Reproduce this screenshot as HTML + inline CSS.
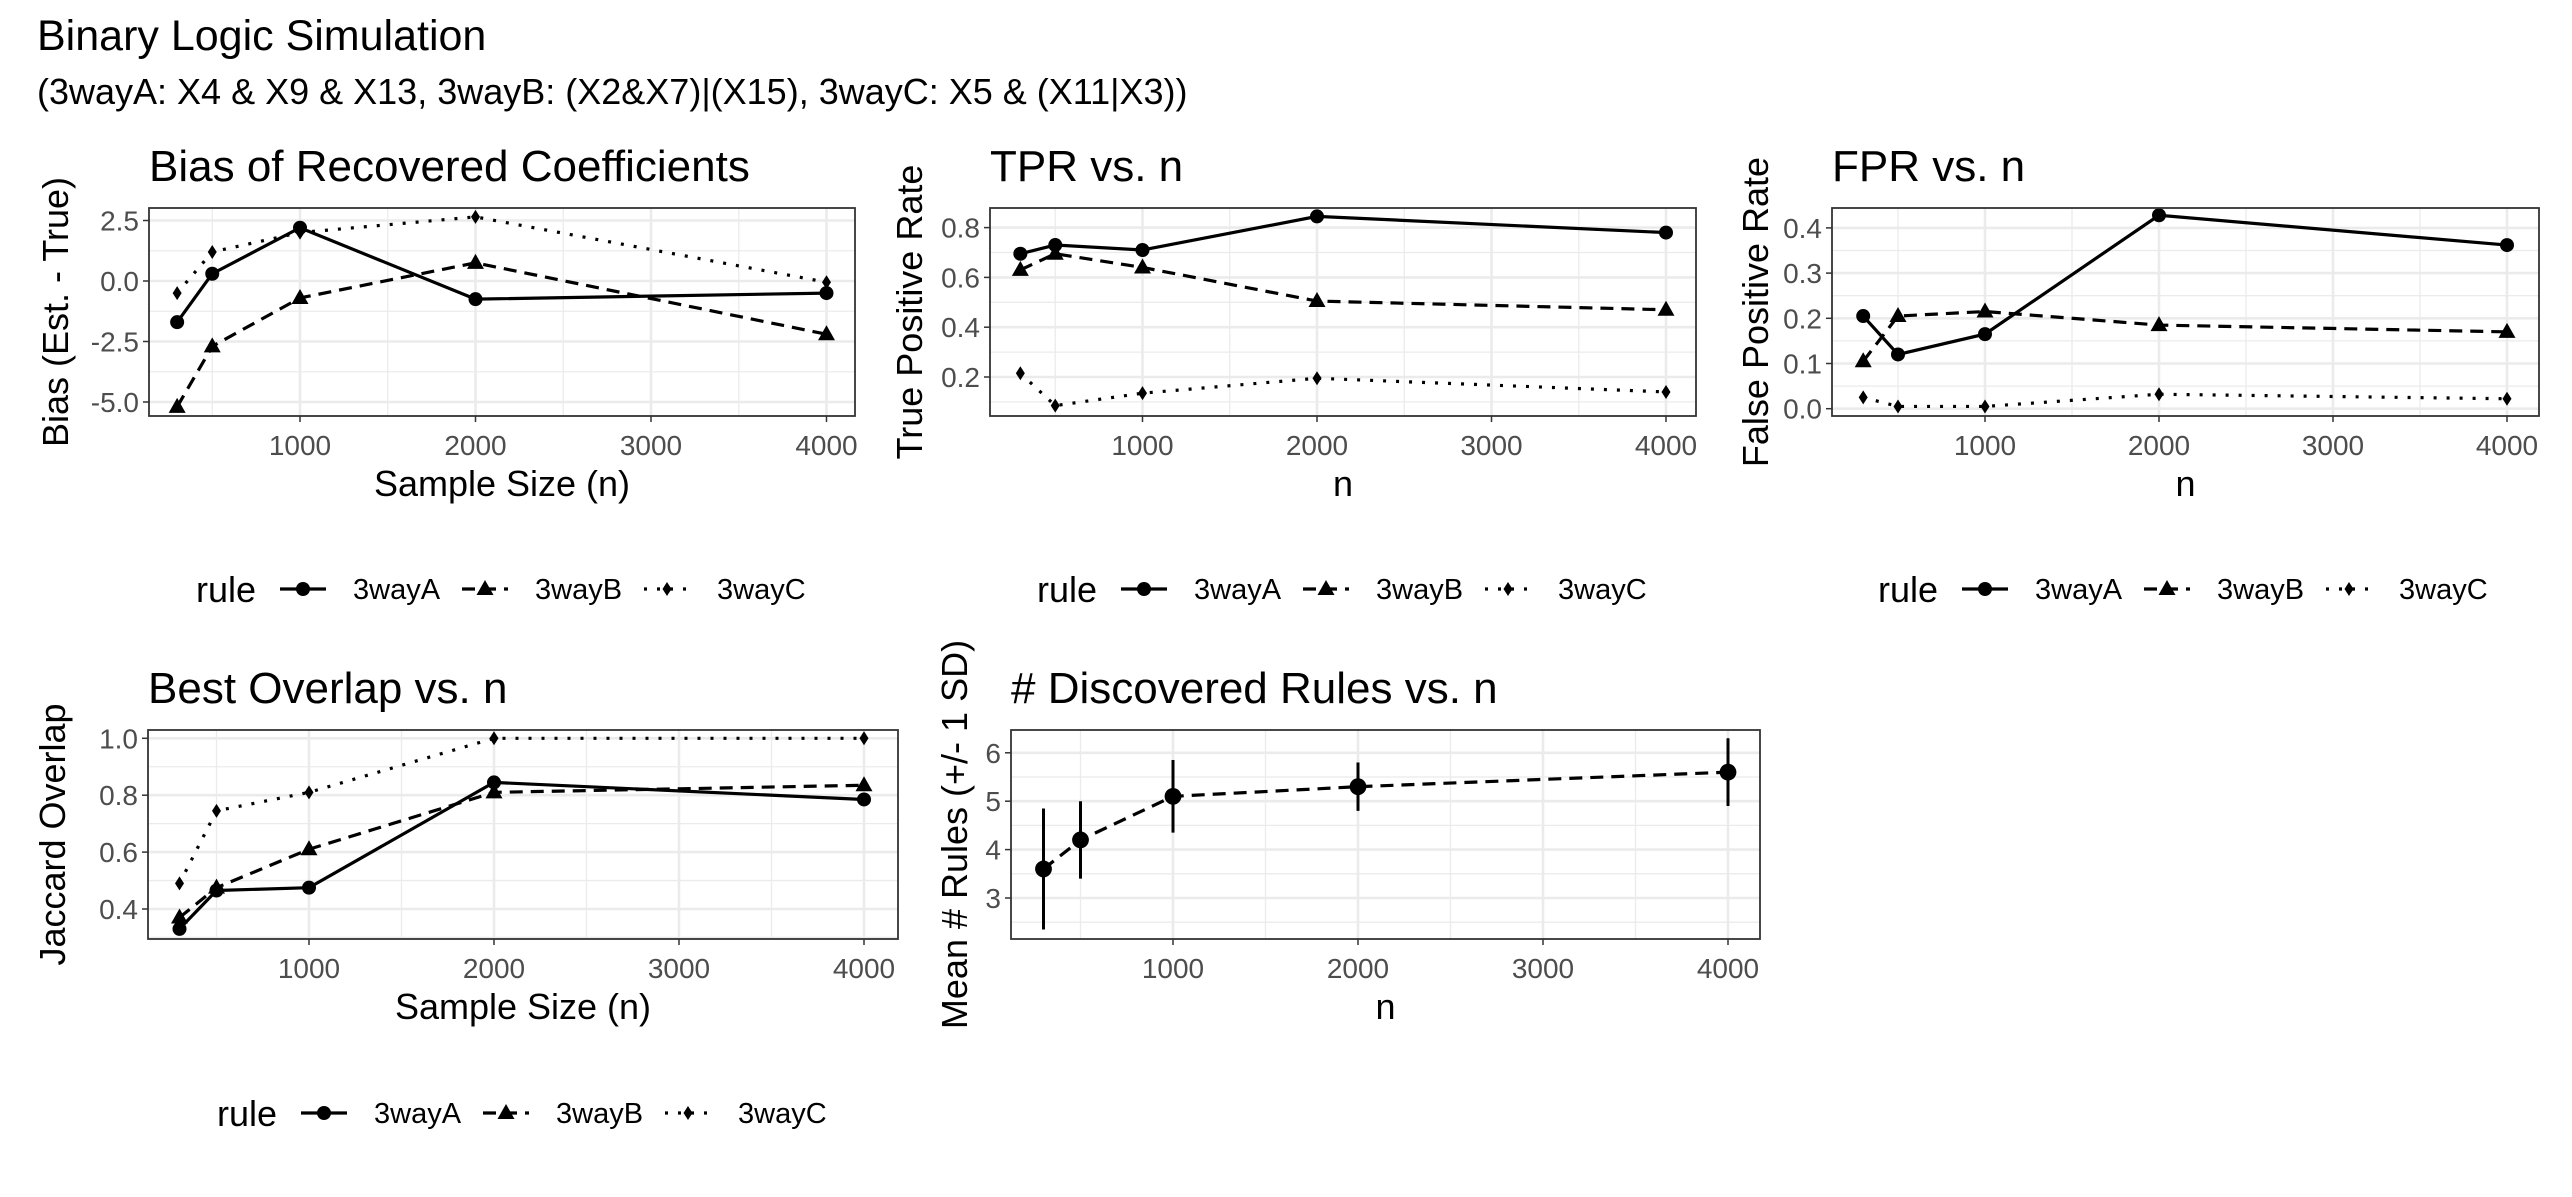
<!DOCTYPE html>
<html><head><meta charset="utf-8"><style>
html,body{margin:0;padding:0;background:#fff}
svg text{font-family:"Liberation Sans",Arial,sans-serif}
</style></head><body>
<svg id="c" width="2572" height="1192" viewBox="0 0 2572 1192" xmlns="http://www.w3.org/2000/svg">
<rect width="2572" height="1192" fill="#fff"/>
<text x="37" y="50" font-size="43">Binary Logic Simulation</text>
<text x="37" y="104" font-size="36">(3wayA: X4 &amp; X9 &amp; X13, 3wayB: (X2&amp;X7)|(X15), 3wayC: X5 &amp; (X11|X3))</text>
</svg>
<script>
const nValues = [300, 500, 1000, 2000, 4000];
const seriesNames = ['3wayA', '3wayB', '3wayC'];
const biasA = [-1.7, 0.3, 2.2, -0.75, -0.5];
const biasB = [-5.2, -2.7, -0.7, 0.75, -2.2];
const biasC = [-0.5, 1.2, 2.0, 2.65, -0.05];
const tprA = [0.695, 0.73, 0.71, 0.845, 0.78];
const tprB = [0.63, 0.695, 0.64, 0.505, 0.47];
const tprC = [0.215, 0.085, 0.135, 0.195, 0.14];
const fprA = [0.205, 0.12, 0.165, 0.428, 0.362];
const fprB = [0.105, 0.205, 0.215, 0.185, 0.17];
const fprC = [0.025, 0.005, 0.005, 0.032, 0.022];
const jacA = [0.33, 0.465, 0.475, 0.845, 0.785];
const jacB = [0.37, 0.475, 0.61, 0.81, 0.835];
const jacC = [0.49, 0.745, 0.81, 1.0, 1.0];
const rulesMean = [3.6, 4.2, 5.1, 5.3, 5.6];
const rulesLow = [2.35, 3.4, 4.35, 4.8, 4.9];
const rulesHigh = [4.85, 5.0, 5.85, 5.8, 6.3];
const xTicks = [1000, 2000, 3000, 4000];
const biasTicks = [-5.0, -2.5, 0.0, 2.5];
const tprTicks = [0.2, 0.4, 0.6, 0.8];
const fprTicks = [0.0, 0.1, 0.2, 0.3, 0.4];
const jacTicks = [0.4, 0.6, 0.8, 1.0];
const rulesTicks = [3, 4, 5, 6];

const svg = document.getElementById('c');
const NS = 'http://www.w3.org/2000/svg';
function mk(tag, attrs, parent) {
  const e = document.createElementNS(NS, tag);
  for (const k in attrs) e.setAttribute(k, attrs[k]);
  (parent || svg).appendChild(e);
  return e;
}
function shape(g, kind, x, y, s) {
  let e;
  if (kind === 0) e = mk('circle', {cx: x, cy: y, r: 7 * s, fill: '#000'}, g);
  else if (kind === 1) e = mk('polygon', {points: `${x},${y-9*s} ${x+8.5*s},${y+6*s} ${x-8.5*s},${y+6*s}`, fill: '#000'}, g);
  else e = mk('polygon', {points: `${x},${y-7*s} ${x+4.5*s},${y} ${x},${y+7*s} ${x-4.5*s},${y}`, fill: '#000'}, g);
  return e;
}
const dashes = ['none', '13,8', '3,10'];

function panel(p) {
  const g = mk('g', {});
  
  
  const X = n => p.x0 + n * p.xs;
  const Y = v => p.yz - (v - p.yb) * p.ys;
  const step = p.yticks[1] - p.yticks[0];
  for (let i = 0; i < p.yticks.length + 1; i++) {
    const v = p.yticks[0] - step / 2 + i * step;
    const yy = Y(v);
    if (yy > p.top && yy < p.bot) mk('line', {x1: p.l, x2: p.r, y1: yy, y2: yy, stroke: '#ebebeb', 'stroke-width': 1.3}, g);
  }
  for (let n = 500; n <= 4000; n += 1000) mk('line', {x1: X(n), x2: X(n), y1: p.top, y2: p.bot, stroke: '#ebebeb', 'stroke-width': 1.3}, g);
  p.yticks.forEach(v => {
    mk('line', {x1: p.l, x2: p.r, y1: Y(v), y2: Y(v), stroke: '#ebebeb', 'stroke-width': 2.6}, g);
    mk('line', {x1: p.l - 6, x2: p.l, y1: Y(v), y2: Y(v), stroke: '#333', 'stroke-width': 1.5}, g);
    const t = mk('text', {x: p.l - 10, y: Y(v) + 10, 'font-size': 28, fill: '#4d4d4d', 'text-anchor': 'end'}, g);
    t.textContent = p.fmt(v);
    
    
  });
  xTicks.forEach(n => {
    mk('line', {x1: X(n), x2: X(n), y1: p.top, y2: p.bot, stroke: '#ebebeb', 'stroke-width': 2.6}, g);
    mk('line', {x1: X(n), x2: X(n), y1: p.bot, y2: p.bot + 6, stroke: '#333', 'stroke-width': 1.5}, g);
    const t = mk('text', {x: X(n), y: p.bot + 39, 'font-size': 28, fill: '#4d4d4d', 'text-anchor': 'middle'}, g);
    t.textContent = n;
    
    
  });
  p.series.forEach((vals, si) => {
    const kind = p.kinds ? p.kinds[si] : si;
    const pl = mk('polyline', {points: nValues.map((n, i) => X(n) + ',' + Y(vals[i])).join(' '), fill: 'none', stroke: '#000', 'stroke-width': 3.2, 'stroke-dasharray': p.dash ? p.dash[si] : dashes[si]}, g);
    
    
    nValues.forEach((n, i) => {
      const pt = shape(g, kind, X(n), Y(vals[i]), p.ps || 1);
      
      
    });
  });
  if (p.err) {
    nValues.forEach((n, i) => {
      const eb = mk('line', {x1: X(n), x2: X(n), y1: Y(p.err[0][i]), y2: Y(p.err[1][i]), stroke: '#000', 'stroke-width': 3}, g);
      
      
    });
  }
  mk('rect', {x: p.l, y: p.top, width: p.r - p.l, height: p.bot - p.top, fill: 'none', stroke: '#333', 'stroke-width': 1.8}, g);
  const tt = mk('text', {x: p.l, y: p.top - 27, 'font-size': 44}, g);
  tt.textContent = p.title;
  
  
  const xt = mk('text', {x: (p.l + p.r) / 2, y: p.bot + 80, 'font-size': 36, 'text-anchor': 'middle'}, g);
  xt.textContent = p.xtitle;
  
  
  const yc = (p.top + p.bot) / 2;
  const yt = mk('text', {x: p.ytx, y: yc, 'font-size': 36, 'text-anchor': 'middle', transform: `rotate(-90 ${p.ytx} ${yc})`}, g);
  yt.textContent = p.ytitle;
  
  
  if (p.leg) {
    const lx = p.leg[0], ly = p.leg[1];
    const lg = mk('g', {}, g);
    
    
    const rt = mk('text', {x: lx, y: ly + 13, 'font-size': 36}, lg);
    rt.textContent = 'rule';
    seriesNames.forEach((nm, i) => {
      const bx = lx + 84 + i * 182;
      const ln = mk('line', {x1: bx, x2: bx + 46, y1: ly, y2: ly, stroke: '#000', 'stroke-width': 3.2, 'stroke-dasharray': dashes[i]}, lg);
      
      
      shape(lg, i, bx + 23, ly, 1);
      const t = mk('text', {x: lx + 157 + i * 182, y: ly + 10, 'font-size': 29}, lg);
      t.textContent = nm;
      
      
    });
  }
}
const f1 = v => v.toFixed(1);
panel({name: 'bias-panel', l: 149, r: 855, top: 208, bot: 416, x0: 124.5, xs: 0.1755, yz: 281, yb: 0, ys: 24.2,
  yticks: biasTicks, fmt: f1, series: [biasA, biasB, biasC], title: 'Bias of Recovered Coefficients',
  xtitle: 'Sample Size (n)', ytitle: 'Bias (Est. - True)', ytx: 68, leg: [196, 589]});
panel({name: 'tpr-panel', l: 990, r: 1696, top: 208, bot: 416, x0: 968, xs: 0.1745, yz: 377, yb: 0.2, ys: 249,
  yticks: tprTicks, fmt: f1, series: [tprA, tprB, tprC], title: 'TPR vs. n',
  xtitle: 'n', ytitle: 'True Positive Rate', ytx: 922, leg: [1037, 589]});
panel({name: 'fpr-panel', l: 1832, r: 2539, top: 208, bot: 416, x0: 1811, xs: 0.174, yz: 408.7, yb: 0, ys: 452,
  yticks: fprTicks, fmt: f1, series: [fprA, fprB, fprC], title: 'FPR vs. n',
  xtitle: 'n', ytitle: 'False Positive Rate', ytx: 1768, leg: [1878, 589]});
panel({name: 'jaccard-panel', l: 148, r: 898, top: 730, bot: 939, x0: 124, xs: 0.185, yz: 909, yb: 0.4, ys: 284.5,
  yticks: jacTicks, fmt: f1, series: [jacA, jacB, jacC], title: 'Best Overlap vs. n',
  xtitle: 'Sample Size (n)', ytitle: 'Jaccard Overlap', ytx: 65, leg: [217, 1113]});
panel({name: 'rules-panel', l: 1011, r: 1760, top: 730, bot: 939, x0: 988, xs: 0.185, yz: 898, yb: 3, ys: 48.4,
  yticks: rulesTicks, fmt: v => String(v), series: [rulesMean], kinds: [0], dash: ['13,8'], snames: ['mean-rules'], ps: 1.2,
  err: [rulesLow, rulesHigh], title: '# Discovered Rules vs. n',
  xtitle: 'n', ytitle: 'Mean # Rules (+/- 1 SD)', ytx: 967});
</script>
</body></html>
